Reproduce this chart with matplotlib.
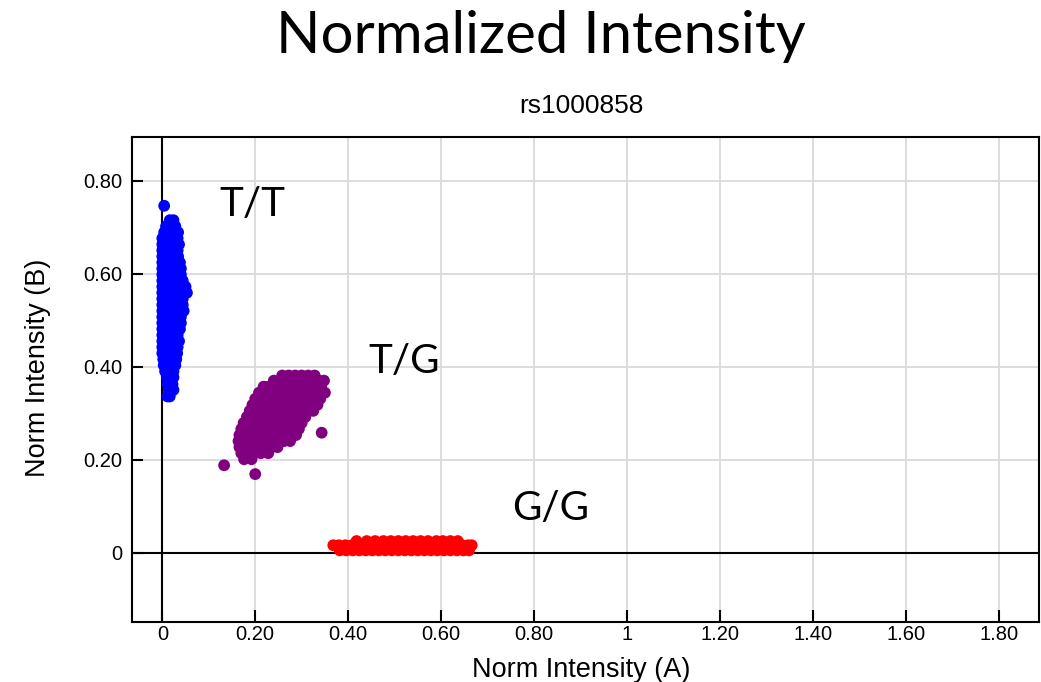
import matplotlib
matplotlib.use("Agg")
import matplotlib.pyplot as plt

# ---------------- data ----------------
# T/T cluster (blue): rows of (Norm B, [Norm A values])
tt_rows = [
    (0.746, [0.004]),
    (0.715, [0.016, 0.024]),
    (0.702, [0.008, 0.018, 0.028]),
    (0.689, [0.004, 0.015, 0.026, 0.034]),
    (0.676, [0.000, 0.011, 0.022, 0.033]),
    (0.663, [0.000, 0.011, 0.022, 0.033, 0.036]),
    (0.650, [0.000, 0.011, 0.022, 0.033]),
    (0.637, [0.000, 0.011, 0.022, 0.034]),
    (0.624, [0.000, 0.011, 0.022, 0.033, 0.038]),
    (0.611, [0.000, 0.011, 0.022, 0.033, 0.040]),
    (0.598, [0.000, 0.011, 0.022, 0.033, 0.040]),
    (0.585, [0.000, 0.011, 0.022, 0.033, 0.044]),
    (0.572, [0.000, 0.011, 0.022, 0.033, 0.044, 0.050]),
    (0.559, [0.000, 0.011, 0.022, 0.033, 0.044, 0.053]),
    (0.546, [0.000, 0.011, 0.022, 0.033, 0.044]),
    (0.533, [0.000, 0.011, 0.022, 0.033, 0.044]),
    (0.520, [0.000, 0.011, 0.022, 0.033, 0.046]),
    (0.507, [0.000, 0.011, 0.022, 0.033, 0.040]),
    (0.494, [0.000, 0.011, 0.022, 0.033, 0.040]),
    (0.481, [0.000, 0.011, 0.022, 0.033, 0.038]),
    (0.468, [0.000, 0.011, 0.022, 0.033]),
    (0.455, [0.000, 0.011, 0.022, 0.033, 0.036]),
    (0.442, [0.000, 0.011, 0.022, 0.033]),
    (0.429, [0.000, 0.011, 0.022, 0.032]),
    (0.416, [0.002, 0.012, 0.022, 0.030]),
    (0.403, [0.003, 0.013, 0.023, 0.028]),
    (0.390, [0.006, 0.015, 0.024]),
    (0.377, [0.010, 0.020, 0.024]),
    (0.362, [0.012, 0.022]),
    (0.350, [0.014, 0.024]),
    (0.336, [0.011, 0.016]),
]

# T/G cluster (purple)
tg_rows = [
    (0.381, [0.258, 0.272, 0.286, 0.300, 0.314, 0.328]),
    (0.370, [0.240, 0.253, 0.267, 0.281, 0.295, 0.309, 0.323, 0.337, 0.348]),
    (0.357, [0.218, 0.230, 0.244, 0.258, 0.272, 0.286, 0.300, 0.314, 0.328, 0.342]),
    (0.344, [0.208, 0.222, 0.236, 0.250, 0.264, 0.278, 0.292, 0.306, 0.320, 0.334, 0.350]),
    (0.331, [0.200, 0.214, 0.228, 0.242, 0.256, 0.270, 0.284, 0.298, 0.312, 0.326, 0.340]),
    (0.318, [0.194, 0.208, 0.222, 0.236, 0.250, 0.264, 0.278, 0.292, 0.306, 0.320, 0.334]),
    (0.305, [0.188, 0.202, 0.216, 0.230, 0.244, 0.258, 0.272, 0.286, 0.300, 0.314, 0.325]),
    (0.292, [0.182, 0.196, 0.210, 0.224, 0.238, 0.252, 0.266, 0.280, 0.294, 0.308]),
    (0.279, [0.175, 0.189, 0.203, 0.217, 0.231, 0.245, 0.259, 0.273, 0.287, 0.300]),
    (0.266, [0.170, 0.184, 0.198, 0.212, 0.226, 0.240, 0.254, 0.268, 0.282, 0.294]),
    (0.253, [0.166, 0.180, 0.194, 0.208, 0.222, 0.236, 0.250, 0.264, 0.278, 0.288]),
    (0.240, [0.164, 0.178, 0.192, 0.206, 0.220, 0.234, 0.248, 0.262, 0.275]),
    (0.227, [0.166, 0.180, 0.194, 0.208, 0.222, 0.236, 0.248]),
    (0.214, [0.170, 0.184, 0.198, 0.212, 0.228]),
    (0.201, [0.176, 0.192]),
    (0.188, [0.133]),
    (0.169, [0.200]),
    (0.258, [0.343]),
    (0.356, [0.225]),
]

# G/G cluster (red)
gg_rows = [
    (0.005, [0.382, 0.396, 0.410, 0.424, 0.438, 0.452, 0.466, 0.480, 0.494, 0.508,
             0.522, 0.536, 0.550, 0.564, 0.578, 0.592, 0.606, 0.620, 0.634, 0.648, 0.660]),
    (0.016, [0.368, 0.380, 0.394, 0.408, 0.422, 0.436, 0.450, 0.464, 0.478, 0.492,
             0.506, 0.520, 0.534, 0.548, 0.562, 0.576, 0.590, 0.604, 0.618, 0.632,
             0.646, 0.658, 0.666]),
    (0.025, [0.418, 0.440, 0.458, 0.476, 0.492, 0.508, 0.524, 0.540, 0.556, 0.572,
             0.590, 0.604, 0.620, 0.636]),
]

cluster_names = ["T/T", "T/G", "G/G"]
cluster_colors = ["#0000FF", "#800080", "#FF0000"]
label_x = [0.122, 0.443, 0.752]
label_y = [0.725, 0.386, 0.070]

x_ticks = [0, 0.2, 0.4, 0.6, 0.8, 1.0, 1.2, 1.4, 1.6, 1.8]
x_tick_labels = ["0", "0.20", "0.40", "0.60", "0.80", "1", "1.20", "1.40", "1.60", "1.80"]
y_ticks = [0, 0.2, 0.4, 0.6, 0.8]
y_tick_labels = ["0", "0.20", "0.40", "0.60", "0.80"]


def flatten(rows):
    xs, ys = [], []
    for yv, xvals in rows:
        for xv in xvals:
            xs.append(xv)
            ys.append(yv)
    return xs, ys


# ---------------- figure ----------------
W, H = 1041, 682
fig = plt.figure(figsize=(W / 100, H / 100), dpi=100)
ax_l, ax_r, ax_t, ax_b = 132.3, 1039.0, 136.5, 621.7
ax = fig.add_axes([ax_l / W, 1 - ax_b / H, (ax_r - ax_l) / W, (ax_b - ax_t) / H])

ax.set_xlim(-0.0646, 1.887)
ax.set_ylim(-0.1484, 0.895)

ax.grid(True, color="#dcd9dc", linewidth=1.3)
ax.set_axisbelow(True)
ax.axhline(0, color="black", linewidth=1.5, zorder=1.5)
ax.axvline(0, color="black", linewidth=1.5, zorder=1.5)

for rows, col in zip([tt_rows, tg_rows, gg_rows], cluster_colors):
    xs, ys = flatten(rows)
    ax.scatter(xs, ys, s=72, color=col, edgecolors="none", zorder=3)

tick_font = "Liberation Sans"
ax.set_xticks(x_ticks)
ax.set_xticklabels(x_tick_labels, fontsize=14.5, family=tick_font)
ax.set_yticks(y_ticks)
ax.set_yticklabels(y_tick_labels, fontsize=14.5, family=tick_font)
ax.tick_params(axis="x", direction="in", length=8.6, width=1.5, pad=2.5, colors="black")
ax.tick_params(axis="y", direction="in", length=8.0, width=1.5, pad=7.5, colors="black")
for sp in ax.spines.values():
    sp.set_linewidth(1.5)
    sp.set_color("black")

ax.set_xlabel("Norm Intensity (A)", fontsize=19.5, family=tick_font)
ax.xaxis.label.set_va("baseline")
ax.xaxis.set_label_coords(0.4954, (ax_b - 676.7) / (ax_b - ax_t))
ax.set_ylabel("Norm Intensity (B)", fontsize=19.5, family=tick_font)
ax.yaxis.label.set_va("center")
ax.yaxis.set_label_coords((38 - ax_l) / (ax_r - ax_l), (ax_b - 368) / (ax_b - ax_t))

for name, lx, ly in zip(cluster_names, label_x, label_y):
    ax.text(lx, ly, name, fontsize=29, family="Lato", va="baseline", ha="left", zorder=4)

title = fig.text(541 / W, 1 - 53 / H, "Normalized Intensity", fontsize=36,
                 family="Lato", ha="center", va="baseline")
sub = fig.text(581.5 / W, 1 - 113.3 / H, "rs1000858", fontsize=19,
               family=tick_font, ha="center", va="baseline")

# fit title width to the reference
fig.canvas.draw()
r = fig.canvas.get_renderer()
bb = title.get_window_extent(r)
title.set_fontsize(36 * 531 / bb.width)

fig.savefig("out.png", dpi=100)
